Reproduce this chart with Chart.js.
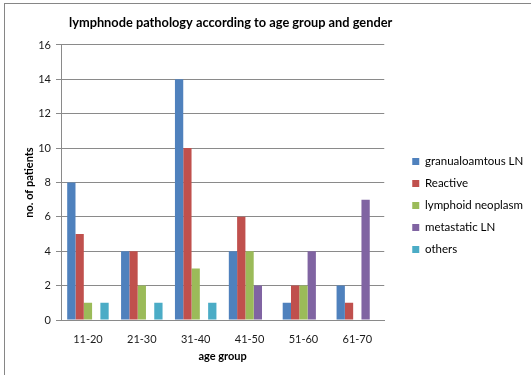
<!DOCTYPE html>
<html>
<head>
<meta charset="utf-8">
<script src="https://cdn.jsdelivr.net/npm/chart.js@4/dist/chart.umd.min.js"></script>
<style>
  html, body { margin: 0; padding: 0; background: #fff; }
  #wrap { position: relative; width: 531px; height: 375px; }
  #frame { position: absolute; left: 4px; top: 3px; width: 540px; height: 400px;
           border-left: 1px solid #868686; border-top: 1px solid #868686; pointer-events: none; }
  canvas { position: absolute; left: 0; top: 0; }
</style>
</head>
<body>
<div id="wrap">
  <canvas id="chart" width="531" height="375"></canvas>
  <div id="frame"></div>
</div>
<script>
// Age groups on the x axis
const ageGroups = ['11-20', '21-30', '31-40', '41-50', '51-60', '61-70'];

// Number of patients per pathology type in each age group
const granulomatous = [8, 4, 14, 4, 1, 2];
const reactive = [5, 4, 10, 6, 2, 1];
const lymphoidNeoplasm = [1, 2, 3, 4, 2, 0];
const metastatic = [0, 0, 0, 2, 4, 7];
const others = [1, 1, 1, 0, 0, 0];

const seriesNames = ['granualoamtous LN', 'Reactive', 'lymphoid neoplasm', 'metastatic LN', 'others'];
const seriesColors = ['#4F81BD', '#C0504D', '#9BBB59', '#8064A2', '#4BACC6'];
const seriesValues = [granulomatous, reactive, lymphoidNeoplasm, metastatic, others];

const FONT = 'Lato, "Liberation Sans", sans-serif';
const GRID = '#8a8a8a';

// Fine placement of the legend and title blocks after Chart.js lays them out
const nudgeBlocks = {
  id: 'nudgeBlocks',
  afterLayout(chart) {
    const lg = chart.legend;
    if (lg) {
      const dx = 17.5;
      lg.left += dx; lg.right += dx;
      const dy = (411 - (lg.top + lg.bottom)) / 2;
      lg.top += dy; lg.bottom += dy;
    }
    const tb = chart.titleBlock;
    if (tb) {
      const dx = 8;
      tb.left += dx; tb.right += dx;
    }
  }
};

new Chart(document.getElementById('chart'), {
  type: 'bar',
  data: {
    labels: ageGroups,
    datasets: seriesNames.map((name, i) => ({
      label: name,
      data: seriesValues[i],
      backgroundColor: seriesColors[i],
      borderWidth: 0,
      categoryPercentage: 0.77,
      barPercentage: 1.0
    }))
  },
  options: {
    responsive: false,
    animation: false,
    devicePixelRatio: 1,
    layout: { padding: { left: 4, right: 20, top: 0, bottom: 0 } },
    plugins: {
      tooltip: { enabled: false },
      title: {
        display: true,
        text: 'lymphnode pathology according to age group and gender',
        fullSize: false,
        color: '#000',
        font: { family: FONT, size: 13.8, weight: 'bold' },
        padding: { top: 14.6, bottom: 13.8 }
      },
      legend: {
        position: 'right',
        align: 'center',
        labels: {
          color: '#000',
          font: { family: FONT, size: 11.5 },
          boxWidth: 7,
          boxHeight: 7,
          padding: 10.5
        }
      }
    },
    scales: {
      x: {
        grid: { display: false },
        border: { display: true, color: GRID, width: 1 },
        ticks: { color: '#1a1a1a', font: { family: FONT, size: 11 }, padding: 5, maxRotation: 0 },
        title: {
          display: true, text: 'age group', color: '#000',
          font: { family: FONT, size: 11, weight: 'bold' },
          padding: { top: 0, bottom: 12.4 }
        },
        afterFit(scale) { scale.height = 55; }
      },
      y: {
        min: 0, max: 16,
        ticks: { stepSize: 2, color: '#1a1a1a', font: { family: FONT, size: 11 }, padding: 5 },
        grid: { color: GRID, lineWidth: 1, drawTicks: true, tickLength: 5 },
        border: { display: true, color: GRID, width: 1 },
        title: {
          display: true, text: 'no. of patients', color: '#000',
          font: { family: FONT, size: 11, weight: 'bold' },
          padding: { top: 18.4, bottom: 0 }
        },
        afterFit(scale) { scale.width = 57; }
      }
    }
  },
  plugins: [nudgeBlocks]
});
</script>
</body>
</html>
